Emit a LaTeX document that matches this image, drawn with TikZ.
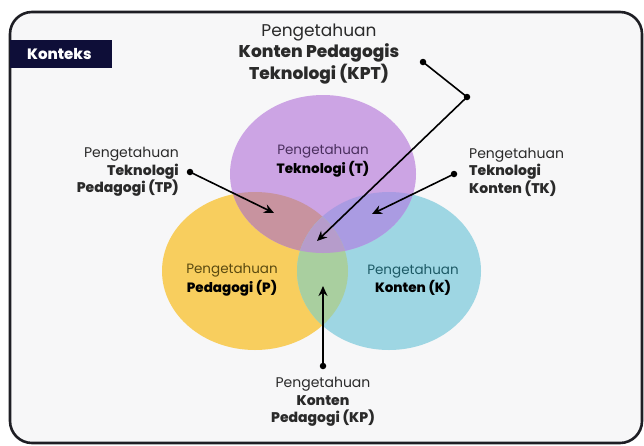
\documentclass[tikz,border=0pt]{standalone}
\usepackage{fontspec}
\setmainfont{Poppins}[BoldFont={Poppins ExtraBold}]
\usetikzlibrary{arrows.meta}
\definecolor{framebg}{HTML}{F7F7F8}
\definecolor{frameline}{HTML}{1E1E24}
\definecolor{navy}{HTML}{0E0E38}
\definecolor{techfill}{HTML}{CCA4E4}
\definecolor{pedfill}{HTML}{F8CE5E}
\definecolor{contfill}{HTML}{9ED6E3}
\definecolor{tpfill}{HTML}{C8939F}
\definecolor{tkfill}{HTML}{AA9BE2}
\definecolor{kpfill}{HTML}{A9CF9F}
\definecolor{kptfill}{HTML}{B69CCB}
\definecolor{techtext}{HTML}{4A2F5E}
\definecolor{pedtext}{HTML}{5A4A10}
\definecolor{conttext}{HTML}{1D5A66}
\definecolor{labeltext}{HTML}{2A2A2A}
\tikzset{
  lbl/.style={font=\fontsize{14}{17.5}\selectfont, text=labeltext, inner sep=0pt},
  toplbl/.style={font=\fontsize{17}{21.5}\selectfont, text=labeltext, inner sep=0pt},
  setlbl/.style={font=\fontsize{13.5}{18.5}\selectfont, align=center, inner sep=0pt},
  pointer/.style={draw=black, line width=1.6pt, -{Stealth[length=10pt,width=9pt]}},
  plain/.style={draw=black, line width=1.6pt},
  dot/.style={circle, fill=black, inner sep=0pt, minimum size=6.5pt},
}
\begin{document}
\begin{tikzpicture}[x=1pt,y=-1pt]
  \useasboundingbox (0,0) rectangle (644,445);
  \fill[white] (0,0) rectangle (644,445);
  % outer frame
  \draw[frameline, line width=2.6pt, fill=framebg, rounded corners=22pt] (10,12) rectangle (642,443);
  % context tag
  \fill[navy] (10,40) rectangle (112,68);
  \node[font=\bfseries\fontsize{15}{16}\selectfont, text=white, anchor=west, inner sep=0pt] (ctx) at (27,54) {Konteks};

  % the three knowledge sets
  \def\tech{(323,174) ellipse [x radius=93, y radius=79]}
  \def\ped{(255,271) ellipse [x radius=93, y radius=79]}
  \def\cont{(389,271) ellipse [x radius=92, y radius=79]}
  \fill[pedfill] \ped;
  \fill[contfill] \cont;
  \fill[techfill] \tech;
  \begin{scope}\clip \tech; \fill[tpfill] \ped; \end{scope}
  \begin{scope}\clip \tech; \fill[tkfill] \cont; \end{scope}
  \begin{scope}\clip \ped; \fill[kpfill] \cont; \end{scope}
  \begin{scope}\clip \tech; \clip \ped; \fill[kptfill] \cont; \end{scope}

  % set names
  \node[setlbl] (t) at (323,161) {\textcolor{techtext}{Pengetahuan}\\\textbf{Teknologi (T)}};
  \node[setlbl] (p) at (232,280) {\textcolor{pedtext}{Pengetahuan}\\\textbf{Pedagogi (P)}};
  \node[setlbl] (k) at (413,280) {\textcolor{conttext}{Pengetahuan}\\\textbf{Konten (K)}};

  % intersection labels
  \node[toplbl, align=center] (kpt) at (319,54) {Pengetahuan\\\textbf{Konten Pedagogis}\\\textbf{Teknologi (KPT)}};
  \node[lbl, align=right, anchor=east] (tp) at (179,172) {Pengetahuan\\\textbf{Teknologi}\\\textbf{Pedagogi (TP)}};
  \node[lbl, align=left, anchor=west] (tk) at (469,172) {Pengetahuan\\\textbf{Teknologi}\\\textbf{Konten (TK)}};
  \node[lbl, align=center] (kp) at (323,402) {Pengetahuan\\\textbf{Konten}\\\textbf{Pedagogi (KP)}};

  % pointer anchors
  \node[dot] (kptdot) at (423,62) {};
  \node[dot] (kptbend) at (467,97) {};
  \coordinate (kpttip) at (317,241);
  \node[dot] (tpdot) at (190,172) {};
  \coordinate (tptip) at (274,213);
  \node[dot] (tkdot) at (454,174) {};
  \coordinate (tktip) at (372,214);
  \node[dot] (kpdot) at (323,366) {};
  \coordinate (kptip) at (323,286);

  % pointers
  \draw[plain] (kptdot.center) -- (kptbend.center);
  \draw[pointer] (kptbend.center) -- (kpttip);
  \draw[pointer] (tpdot.center) -- (tptip);
  \draw[pointer] (tkdot.center) -- (tktip);
  \draw[pointer] (kpdot.center) -- (kptip);
\end{tikzpicture}
\end{document}
